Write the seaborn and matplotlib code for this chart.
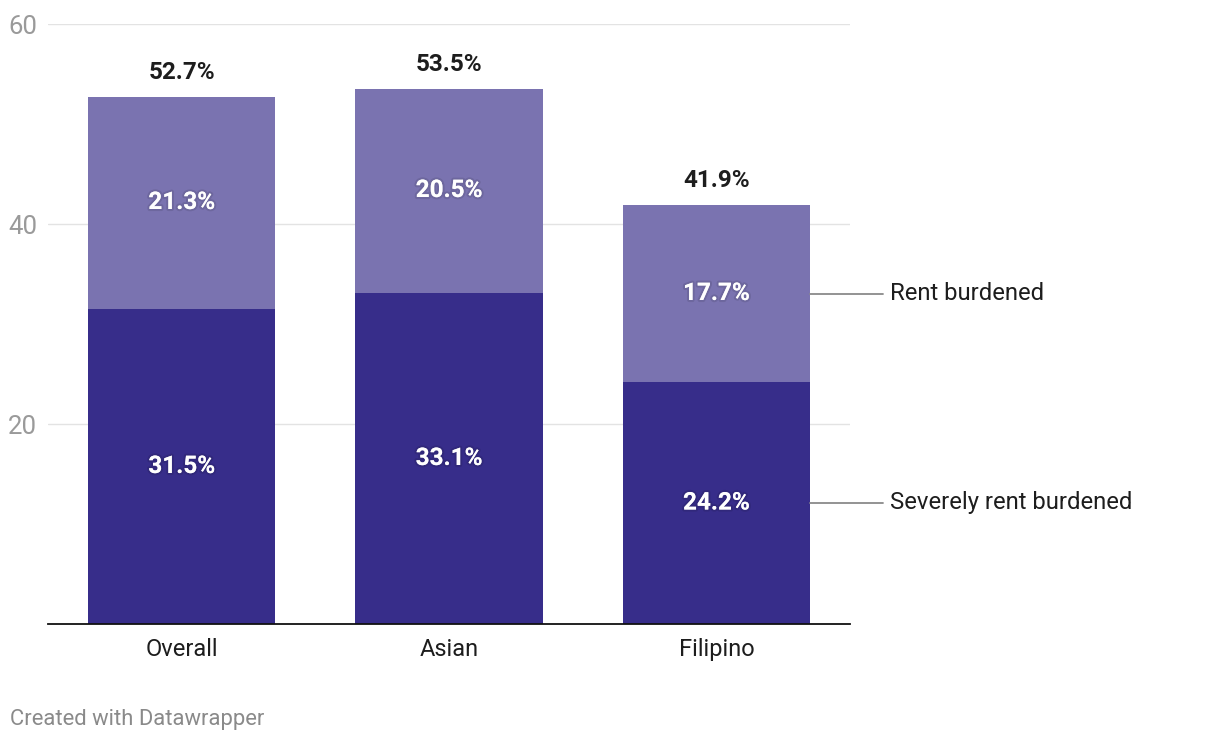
import matplotlib.pyplot as plt
import matplotlib.patheffects as pe
import seaborn as sns

# Chart data
categories = ['Overall', 'Asian', 'Filipino']
severe = [31.5, 33.1, 24.2]
burdened = [21.3, 20.5, 17.7]
totals = [52.7, 53.5, 41.9]
series_names = ['Rent burdened', 'Severely rent burdened']
y_ticks = [20, 40, 60]

dark = '#372d8a'
light = '#7a73b0'
text_col = '#1d1d1d'

sns.set_theme(style='white')
plt.rcParams['font.family'] = ['Roboto', 'DejaVu Sans']

fig = plt.figure(figsize=(12.2, 7.44), dpi=100)
ax = fig.add_axes([48 / 1220, (744 - 624) / 744, 802 / 1220, 600 / 744])

# stacked bars: full total in light, severe part in dark on top of it
sns.barplot(x=categories, y=totals, color=light, width=0.7, saturation=1, linewidth=0, ax=ax, zorder=2)
sns.barplot(x=categories, y=severe, color=dark, width=0.7, saturation=1, linewidth=0, ax=ax, zorder=3)

ax.set_xlim(-0.5, 2.5)
ax.set_ylim(0, 60)
ax.set_yticks(y_ticks)
ax.set_yticklabels([str(t) for t in y_ticks])
ax.tick_params(axis='y', length=0, pad=8, labelsize=18.5, labelcolor='#9a9a9a')
ax.tick_params(axis='x', length=0, pad=10, labelsize=17, labelcolor=text_col)
ax.grid(axis='y', color='#e3e3e3', linewidth=1, zorder=0)
ax.set_axisbelow(True)
for side in ['top', 'right', 'left']:
    ax.spines[side].set_visible(False)
ax.spines['bottom'].set_color('#111111')
ax.spines['bottom'].set_linewidth(1.3)
ax.spines['bottom'].set_zorder(5)
ax.set_xlabel('')
ax.set_ylabel('')

shadow = [pe.withStroke(linewidth=3, foreground=(0, 0, 0, 0.1))]

for i in range(len(categories)):
    ax.text(i, severe[i] / 2, f'{severe[i]}%', ha='center', va='center', color='white',
            fontsize=17.5, fontweight='bold', path_effects=shadow, zorder=6)
    ax.text(i, severe[i] + burdened[i] / 2, f'{burdened[i]}%', ha='center', va='center',
            color='white', fontsize=17.5, fontweight='bold', path_effects=shadow, zorder=6)
    ax.text(i, totals[i] + 2.5, f'{totals[i]}%', ha='center', va='center', color=text_col,
            fontsize=17.5, fontweight='bold', zorder=6)

# direct labels next to the last bar
last = len(categories) - 1
label_y = [severe[last] + burdened[last] / 2, severe[last] / 2]
x0 = last + 0.35
for name, yy in zip(series_names, label_y):
    ax.plot([x0, x0 + 0.273], [yy, yy], color='#8a8a8a', linewidth=1.3, clip_on=False, zorder=4)
    ax.text(x0 + 0.3, yy, name, ha='left', va='center', color=text_col, fontsize=17.2, clip_on=False)

fig.text(10 / 1220, 1 - 720 / 744, 'Created with Datawrapper', ha='left', va='center',
         color='#8a8a8a', fontsize=15.8)

fig.savefig('out.png', dpi=100)
